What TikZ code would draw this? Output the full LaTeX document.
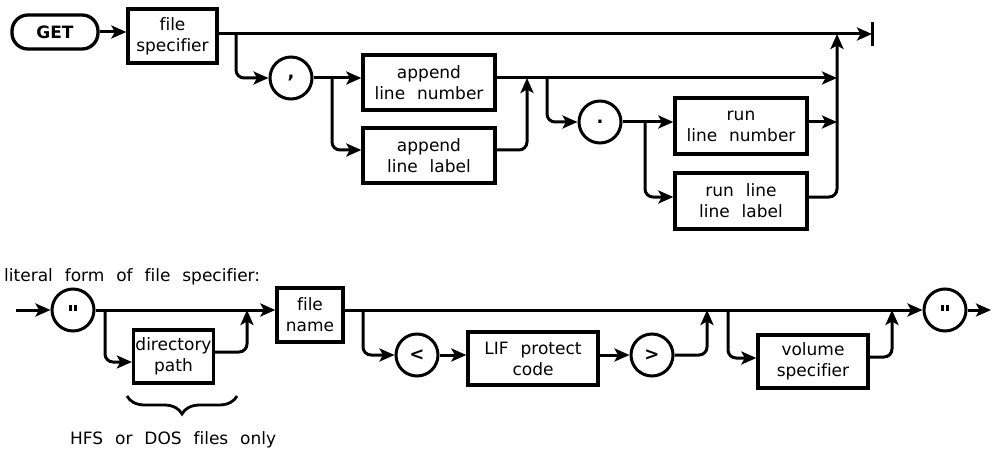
\documentclass[tikz,border=0pt]{standalone}
\usepackage{fontspec}
\setmainfont[WordSpace=2.2,Ligatures={NoCommon}]{DejaVu Sans}
\usetikzlibrary{arrows.meta,decorations.pathreplacing}
\newcommand{\dq}{\raisebox{4pt}{\rule{2.6pt}{6pt}\hspace{2.4pt}\rule{2.6pt}{6pt}}}
\begin{document}
\begin{tikzpicture}[x=1pt,y=-1pt,
  font=\fontsize{17}{21}\selectfont,
  box/.style={draw,line width=3.3pt,align=center,inner sep=0pt},
  term/.style={draw,circle,line width=3pt,minimum size=42pt,inner sep=0pt,font=\fontsize{18}{21}\selectfont\bfseries},
  ln/.style={line width=3pt,rounded corners=8pt},
  arr/.style={ln,-{Stealth[length=15pt,width=13pt,inset=3.5pt]}},
]
\useasboundingbox (0,0) rectangle (992,449);
% ---------- top diagram ----------
\node[box,rounded corners=16pt,minimum width=86pt,minimum height=34pt,font=\fontsize{17}{21}\selectfont\bfseries] (get) at (55,32) {GET};
\node[box,minimum width=89pt,minimum height=54pt] (fs) at (172.5,36) {file\\specifier};
\node[term] (comma) at (291,78) {,};
\node[box,minimum width=132pt,minimum height=55pt] (aln) at (429,82.5) {append\\line number};
\node[box,minimum width=132pt,minimum height=55pt] (all) at (429,155.5) {append\\line label};
\node[term] (period) at (600,122) {.};
\node[box,minimum width=132pt,minimum height=56pt] (rln) at (741,126) {run\\line number};
\node[box,minimum width=132pt,minimum height=56pt] (rll) at (741,201) {run line\\line label};
\coordinate (end) at (872,34);
\coordinate (j1) at (236,34);
\coordinate (j2) at (332,78);
\coordinate (m1) at (527,78);
\coordinate (j3) at (547,78);
\coordinate (j4) at (645,122);
\coordinate (m2) at (837,34);
\coordinate (ral) at (0,150);
\coordinate (rrl) at (0,197);
\draw[arr] (get.east) -- (get.east -| fs.west);
\draw[arr] (fs.east |- end) -- (end);
\draw[line width=3pt] (872,22) -- (872,46);
\draw[arr] (j1) |- (comma.west);
\draw[arr] (comma.east) -- (comma.east -| aln.west);
\draw[arr] (j2) |- (all.west |- ral);
\draw[arr] (aln.east |- comma) -- (m2 |- comma);
\draw[arr] (all.east |- ral) -| (m1);
\draw[arr] (j3) |- (period.west);
\draw[arr] (period.east) -- (period.east -| rln.west);
\draw[arr] (j4) |- (rll.west |- rrl);
\draw[arr] (rln.east |- period) -- (m2 |- period);
\draw[arr] (rll.east |- rrl) -| (m2);
% ---------- bottom diagram ----------
\node[anchor=west,inner sep=0pt] (lit) at (4,277) {literal form of file specifier:};
\coordinate (start) at (16,310);
\node[term] (q1) at (73,310) {\dq};
\node[box,minimum width=80pt,minimum height=53pt] (dp) at (173.5,356.5) {directory\\path};
\node[box,minimum width=66pt,minimum height=54pt] (fn) at (310,315) {file\\name};
\node[term] (lt) at (417,355) {<};
\node[box,minimum width=130pt,minimum height=53pt] (lif) at (533,358.5) {LIF protect\\code};
\node[term] (gt) at (652,355) {>};
\node[box,minimum width=110pt,minimum height=53pt] (vs) at (813,361.5) {volume\\specifier};
\node[term] (q2) at (945,310) {\dq};
\coordinate (stop) at (991,310);
\coordinate (j5) at (105,310);
\coordinate (m3) at (247,310);
\coordinate (j6) at (363,310);
\coordinate (m4) at (707,310);
\coordinate (j7) at (728,310);
\coordinate (m5) at (892,310);
\draw[arr] (start) -- (q1.west);
\draw[arr] (q1.east) -- (q1.east -| fn.west);
\draw[arr] (j5) |- (dp.west |- 0,362);
\draw[arr] (dp.east |- 0,352) -| (m3);
\draw[arr] (fn.east |- q2) -- (q2.west);
\draw[arr] (j6) |- (lt.west);
\draw[arr] (lt.east) -- (lt.east -| lif.west);
\draw[arr] (lif.east |- gt) -- (gt.west);
\draw[arr] (gt.east) -| (m4);
\draw[arr] (j7) |- (vs.west |- 0,358);
\draw[arr] (vs.east |- 0,357) -| (m5);
\draw[arr] (q2.east) -- (stop);
\draw[line width=2.8pt,decorate,decoration={brace,mirror,amplitude=18pt}] (127,396) -- (237,396);
\node[anchor=west,inner sep=0pt] (hfs) at (70,440) {HFS or DOS files only};
\end{tikzpicture}
\end{document}
